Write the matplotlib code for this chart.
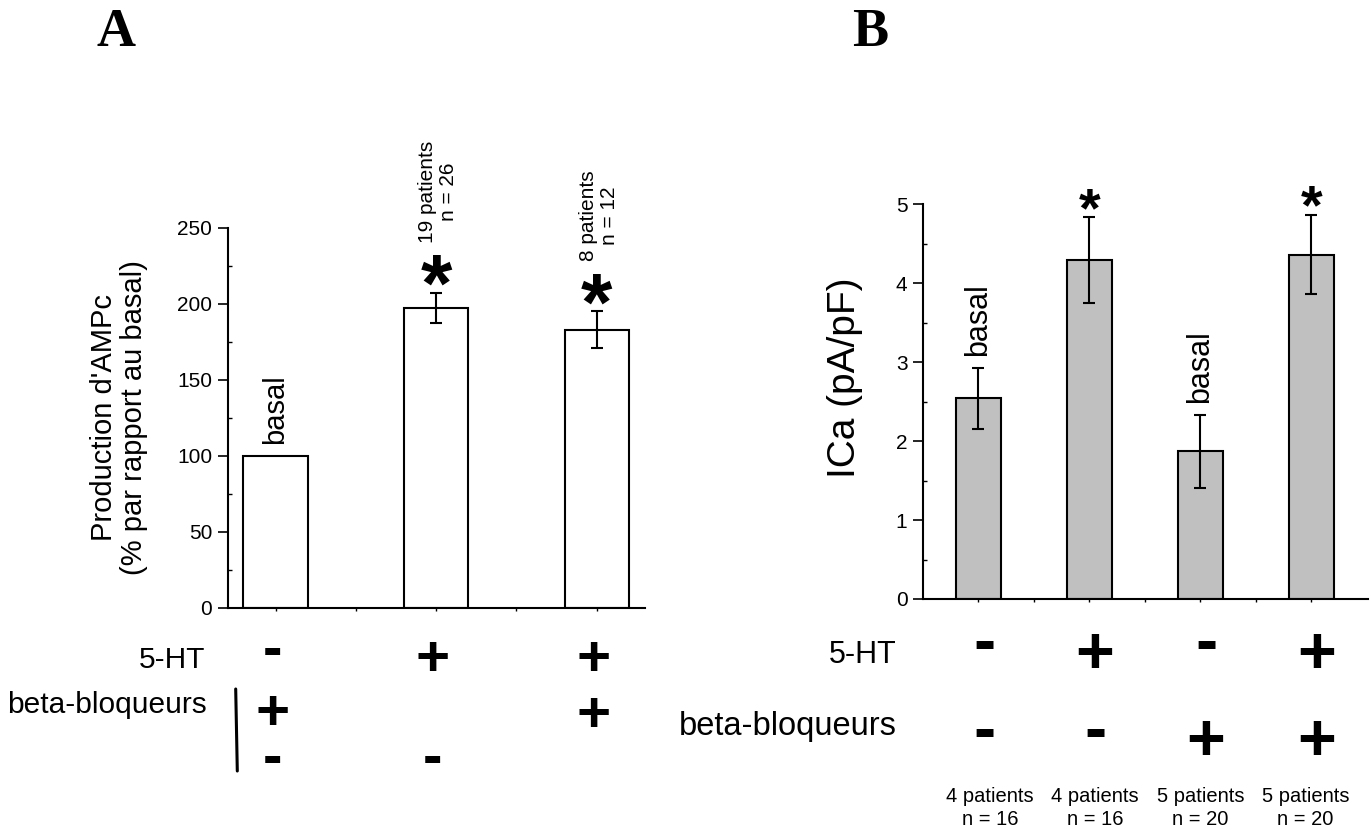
import matplotlib
matplotlib.use('Agg')
import matplotlib.pyplot as plt
import matplotlib.transforms as mtransforms
from matplotlib.lines import Line2D
import numpy as np

W, H = 1372, 830
plt.rcParams['font.family'] = ['Liberation Sans', 'DejaVu Sans']

# ---- Panel A: cAMP production (% of basal) ----
a_means = [100, 197, 183]
a_errs = [0, 10, 12]
a_ht = ['-', '+', '+']
a_bb_upper = ['+', '', '+']
a_bb_lower = ['-', '-', '']
a_notes = ['', '19 patients\nn = 26', '8 patients\nn = 12']
a_star = [False, True, True]
a_basal = [True, False, False]
a_yticks = [0, 50, 100, 150, 200, 250]

# ---- Panel B: ICa density ----
b_means = [2.54, 4.29, 1.87, 4.36]
b_errs = [0.39, 0.54, 0.46, 0.50]
b_ht = ['-', '+', '-', '+']
b_bb = ['-', '-', '+', '+']
b_counts = ['4 patients\nn = 16', '4 patients\nn = 16',
            '5 patients\nn = 20', '5 patients\nn = 20']
b_star = [False, True, False, True]
b_basal = [True, False, True, False]
b_yticks = [0, 1, 2, 3, 4, 5]

fig = plt.figure(figsize=(W / 100, H / 100), dpi=100)


def fx(x):
    return x / W


def fy(y):
    return 1 - y / H


def em(fs):
    return fs * 100 / 72


axA = fig.add_axes([fx(227.5), fy(607.7), (645 - 227.5) / W, (607.7 - 227.7) / H])
axB = fig.add_axes([fx(922.7), fy(599), (1368 - 922.7) / W, (599 - 204) / H])

for ax in (axA, axB):
    for side in ('top', 'right'):
        ax.spines[side].set_visible(False)
    for side in ('left', 'bottom'):
        ax.spines[side].set_linewidth(1.5)
    ax.tick_params(axis='y', which='major', direction='out', length=7,
                   width=1.2, labelsize=15, pad=4)
    ax.tick_params(axis='y', which='minor', direction='in', length=3, width=1)
    ax.tick_params(axis='x', which='both', direction='out', length=2.5,
                   width=1, labelbottom=False)

# Panel A bars
xa = np.arange(len(a_means))
axA.bar(xa, a_means, width=0.4, color='white', edgecolor='black', linewidth=1.5, zorder=2)
ea = [i for i, e in enumerate(a_errs) if e > 0]
axA.errorbar(xa[ea], np.array(a_means)[ea], yerr=np.array(a_errs)[ea], fmt='none',
             ecolor='black', elinewidth=1.5, capsize=4.5, capthick=1.5, zorder=3)
axA.set_xlim(-0.299, 2.30)
axA.set_ylim(0, 250)
axA.set_yticks(a_yticks)
axA.set_yticks(np.arange(25, 250, 50), minor=True)
axA.set_xticks(np.arange(0, 2.01, 0.5))
axA.set_ylabel("Production d'AMPc\n(% par rapport au basal)", fontsize=21,
               labelpad=21, linespacing=1.1)

fsA_star = 58
for i, (m, e) in enumerate(zip(a_means, a_errs)):
    top = m + e
    if a_basal[i]:
        axA.annotate('basal', xy=(i, top), xytext=(0, 12), textcoords='offset pixels',
                     rotation=90, ha='center', va='bottom', fontsize=21)
    if a_star[i]:
        axA.annotate('*', xy=(i, top), xytext=(0, 28 - 0.57 * em(fsA_star)),
                     textcoords='offset pixels', ha='center', va='baseline',
                     fontsize=fsA_star, fontweight='bold')
    if a_notes[i]:
        axA.annotate(a_notes[i], xy=(i, top), xytext=(2, 50), textcoords='offset pixels',
                     rotation=90, ha='center', va='bottom', fontsize=15,
                     multialignment='center', linespacing=1.15)

# Panel B bars
xb = np.arange(len(b_means))
axB.bar(xb, b_means, width=0.4, color='#c0c0c0', edgecolor='black', linewidth=1.5, zorder=2)
axB.errorbar(xb, b_means, yerr=b_errs, fmt='none', ecolor='black', elinewidth=1.5,
             capsize=4.5, capthick=1.5, zorder=3)
axB.set_xlim(-0.502, 3.51)
axB.set_ylim(0, 5)
axB.set_yticks(b_yticks)
axB.set_yticks(np.arange(0.5, 5, 1.0), minor=True)
axB.set_xticks(np.arange(0, 3.01, 0.5))
axB.set_ylabel('ICa (pA/pF)', fontsize=28)
axB.yaxis.set_label_coords(-0.134, 0.56)

fsB_star = 40
for i, (m, e) in enumerate(zip(b_means, b_errs)):
    top = m + e
    if b_basal[i]:
        axB.annotate('basal', xy=(i, top), xytext=(0, 12), textcoords='offset pixels',
                     rotation=90, ha='center', va='bottom', fontsize=22)
    if b_star[i]:
        axB.annotate('*', xy=(i, top), xytext=(0, 23 - 0.57 * em(fsB_star)),
                     textcoords='offset pixels', ha='center', va='baseline',
                     fontsize=fsB_star, fontweight='bold', annotation_clip=False)

# Condition rows under the bars (x follows the bars, y in figure pixels)
glyph_mid = {'+': 0.35, '-': 0.27}


def sign(ax, x, ycenter_px, s, fs, linespacing=1.2):
    """Place a +/- marker; for stacked markers ycenter_px refers to the last line."""
    if not s:
        return
    tr = mtransforms.blended_transform_factory(ax.transData, fig.transFigure)
    base = ycenter_px + glyph_mid[s[-1]] * em(fs)
    ax.text(x, fy(base), s, transform=tr, ha='center', va='baseline',
            fontsize=fs, fontweight='bold', clip_on=False,
            multialignment='center', linespacing=linespacing)


fsA_sign = 42
for i in range(3):
    sign(axA, i - 0.02, 651 if a_ht[i] == '-' else 656, a_ht[i], fsA_sign)
    if a_bb_upper[i] and a_bb_lower[i]:
        # both beta-blocker states stacked in one column
        sign(axA, i - 0.02, 759, a_bb_upper[i] + '\n' + a_bb_lower[i], fsA_sign,
             linespacing=0.78)
    else:
        sign(axA, i - 0.02, 712, a_bb_upper[i], fsA_sign)
        sign(axA, i - 0.02, 759, a_bb_lower[i], fsA_sign)

fig.text(fx(205), fy(660), '5-HT', ha='right', va='center', fontsize=21.5)
fig.text(fx(207), fy(705), 'beta-bloqueurs', ha='right', va='center', fontsize=21.5)
fig.add_artist(Line2D([fx(235.7), fx(237.3)], [fy(689), fy(771)], color='black',
                      lw=2.2, solid_capstyle='round'))

fsB_sign = 48
trb = mtransforms.blended_transform_factory(axB.transData, fig.transFigure)
count_x = xb * 0.947 + 0.105
for i in range(4):
    sign(axB, i + 0.05, 644 if b_ht[i] == '-' else 650, b_ht[i], fsB_sign)
    sign(axB, i + 0.05, 732 if b_bb[i] == '-' else 737, b_bb[i], fsB_sign)
    axB.text(count_x[i], fy(808), b_counts[i], transform=trb, ha='center', va='center',
             fontsize=14.5, multialignment='center', linespacing=1.25, clip_on=False)

fig.text(fx(897), fy(655), '5-HT', ha='right', va='center', fontsize=22)
fig.text(fx(897), fy(727), 'beta-bloqueurs', ha='right', va='center', fontsize=23.5)

# Panel letters
fig.text(fx(116), fy(46), 'A', ha='center', va='baseline', fontsize=39,
         fontweight='bold', family='Liberation Serif')
fig.text(fx(870), fy(46), 'B', ha='center', va='baseline', fontsize=39,
         fontweight='bold', family='Liberation Serif')

fig.savefig('out.png', dpi=100, facecolor='white')
